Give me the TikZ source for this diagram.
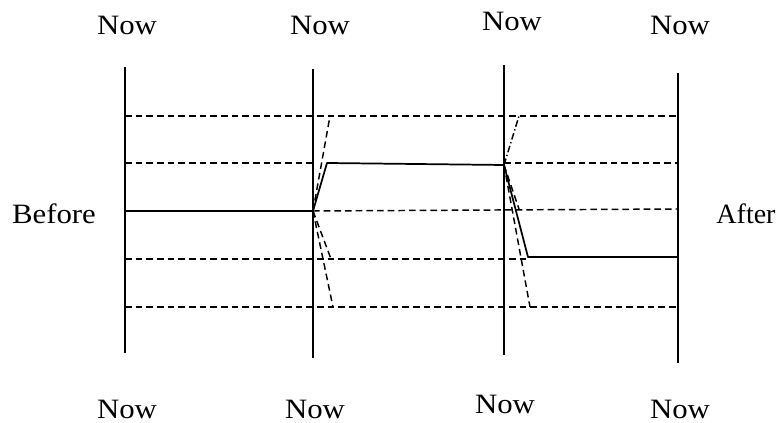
\documentclass[tikz,border=0pt]{standalone}
\usepackage{fontspec}
\setmainfont{Liberation Serif}
\usetikzlibrary{positioning}
\tikzset{
  timeline/.style={line width=1.3pt},
  history/.style={line width=1.3pt, line join=bevel},
  branch/.style={line width=1.1pt, dash pattern=on 5pt off 3pt},
  dotbranch/.style={line width=1.1pt, dash pattern=on 5pt off 2pt on 1pt off 2pt},
  nowlabel/.style={font=\fontsize{21}{21}\selectfont, xscale=1.1, transform shape, inner sep=0pt},
  sidelabel/.style={font=\fontsize{21}{21}\selectfont, transform shape, inner sep=0pt}
}
\begin{document}
\begin{tikzpicture}[x=0.75pt,y=-0.75pt]
  \useasboundingbox (0,0) rectangle (783,423);
  % time lines
  \coordinate (t1) at (125,67);  \coordinate (b1) at (125,353);
  \coordinate (t2) at (313,69);  \coordinate (b2) at (313,358);
  \coordinate (t3) at (504,65);  \coordinate (b3) at (504,355);
  \coordinate (t4) at (678,73);  \coordinate (b4) at (678,363);
  \draw[timeline] (t1)--(b1); \draw[timeline] (t2)--(b2);
  \draw[timeline] (t3)--(b3); \draw[timeline] (t4)--(b4);
  % labels
  \node[nowlabel] (n1) at (127,25) {Now};
  \node[nowlabel] (n2) at (320,25) {Now};
  \node[nowlabel] (n3) at (512,21) {Now};
  \node[nowlabel] (n4) at (680,25) {Now};
  \node[nowlabel] (m1) at (127,409) {Now};
  \node[nowlabel] (m2) at (315,409) {Now};
  \node[nowlabel] (m3) at (505,404) {Now};
  \node[nowlabel] (m4) at (680,409) {Now};
  \node[sidelabel, xscale=1.1] (before) at (54,214) {Before};
  \node[sidelabel] (after) at (746,214) {After};
  % junctions
  \coordinate (j1) at (313,211); \coordinate (k1) at (327,163);
  \coordinate (j2) at (504,165); \coordinate (k2) at (528,257);
  % possible histories
  \coordinate (a1) at (125,116); \coordinate (a4) at (678,116);
  \coordinate (c1) at (125,163); \coordinate (c2) at (313,163);
  \coordinate (c3) at (504,163); \coordinate (c4) at (678,163);
  \coordinate (d1) at (125,211); \coordinate (d4) at (678,209);
  \coordinate (e1) at (125,259); \coordinate (e3) at (528,259);
  \coordinate (e4) at (678,257);
  \coordinate (f1) at (125,307); \coordinate (f4) at (678,307);
  \draw[branch] (a1)--(a4);
  \draw[branch] (c1)--(c2); \draw[branch] (c3)--(c4);
  \draw[branch] (j1)--(d4);
  \draw[branch] (e1)--(e3);
  \draw[branch] (f1)--(f4);
  \draw[branch] (j1)--(330,116);
  \draw[branch] (j1)--(331,259);
  \draw[branch] (j1)--(333,307);
  \draw[dotbranch] (j2)--(519,116);
  \draw[branch] (j2)--(519,209);
  \draw[branch] (j2)--(530,307);
  % actual history
  \draw[history] (d1)--(j1)--(k1)--(j2)--(k2)--(e4);
\end{tikzpicture}
\end{document}
